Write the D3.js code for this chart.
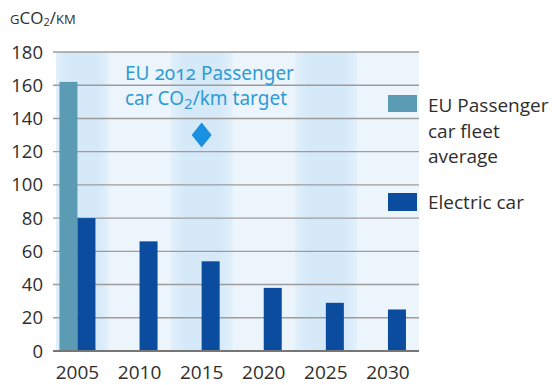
<!DOCTYPE html>
<html>
<head>
<meta charset="utf-8">
<script src="https://cdn.jsdelivr.net/npm/d3@7"></script>
<style>
  html, body { margin: 0; padding: 0; background: #fff; }
  svg { display: block; }
  text { font-family: "Open Sans", "Noto Sans", sans-serif; }
</style>
</head>
<body>
<svg id="chart" width="554" height="385"></svg>
<script>
// Chart data
const years = ["2005", "2010", "2015", "2020", "2025", "2030"];
const fleetAverage = [162, null, null, null, null, null];   // EU passenger car fleet average
const electricCar = [80, 66, 54, 38, 29, 25];                // electric car
const targetYear = "2015";
const targetValue = 130;                                     // EU 2012 target
const yTicks = [0, 20, 40, 60, 80, 100, 120, 140, 160, 180];
const seriesNames = ["EU Passenger car fleet average", "Electric car"];

const colors = {
  fleet: "#5b9bb4",
  electric: "#0b4c9e",
  target: "#1a90e2",
  annot: "#2f9bd6",
  text: "#2e2e2e",
  grid: "#9c9c9c",
  axis: "#767676",
  bandDark: "#d5e9f9",
  bandEdge: "#e2f0fb",
  bandLight: "#edf5fc"
};

const svg = d3.select("#chart");
const plot = { left: 56, right: 419, top: 52, bottom: 351 };

const x = d3.scaleBand().domain(years).range([46.4, plot.right]).padding(0);
const xSub = d3.scaleBand().domain(["fleet", "electric"]).range([0, 36]).padding(0);
const y = d3.scaleLinear().domain([0, 180]).range([plot.bottom, plot.top]);
const center = d => x(d) + x.bandwidth() / 2;

// Background bands
const defs = svg.append("defs");
const grad = defs.append("linearGradient").attr("id", "bandGrad")
  .attr("x1", "0%").attr("x2", "100%").attr("y1", "0%").attr("y2", "0%");
grad.append("stop").attr("offset", "0%").attr("stop-color", colors.bandEdge);
grad.append("stop").attr("offset", "22%").attr("stop-color", colors.bandDark);
grad.append("stop").attr("offset", "78%").attr("stop-color", colors.bandDark);
grad.append("stop").attr("offset", "100%").attr("stop-color", colors.bandEdge);

svg.append("rect")
  .attr("x", plot.left).attr("y", plot.top)
  .attr("width", plot.right - plot.left).attr("height", plot.bottom - plot.top)
  .attr("fill", colors.bandLight);

svg.append("g").selectAll("rect")
  .data(years.filter((d, i) => i % 2 === 0))
  .join("rect")
  .attr("x", d => Math.max(plot.left, x(d)))
  .attr("y", plot.top)
  .attr("width", d => x(d) + x.bandwidth() - Math.max(plot.left, x(d)))
  .attr("height", plot.bottom - plot.top)
  .attr("fill", "url(#bandGrad)");

// Gridlines
svg.append("g").selectAll("line")
  .data(yTicks.filter(t => t > 0))
  .join("line")
  .attr("x1", plot.left - 3).attr("x2", plot.right)
  .attr("y1", d => y(d)).attr("y2", d => y(d))
  .attr("stroke", colors.grid).attr("stroke-width", 1.4);

// Y tick labels
svg.append("g").selectAll("text")
  .data(yTicks)
  .join("text")
  .attr("x", 43).attr("y", d => y(d) + 6.5)
  .attr("text-anchor", "end")
  .attr("font-size", 18.5)
  .attr("fill", colors.text)
  .text(d => d);

// Y axis title: gCO2/km set in small caps (lowercase letters as reduced capitals)
const yTitle = svg.append("text")
  .attr("x", 10).attr("y", 24)
  .attr("font-size", 17)
  .attr("fill", colors.text);
yTitle.append("tspan").attr("font-size", 13).text("G");
yTitle.append("tspan").text("CO");
yTitle.append("tspan").attr("font-size", 11).attr("dy", 2).text("2");
yTitle.append("tspan").attr("dy", -2).text("/");
yTitle.append("tspan").attr("font-size", 13).text("KM");

// Bars
svg.append("g").selectAll("rect")
  .data(years.map((d, i) => ({ year: d, v: fleetAverage[i] })).filter(d => d.v != null))
  .join("rect")
  .attr("x", d => center(d.year) - 18 + xSub("fleet"))
  .attr("width", xSub.bandwidth())
  .attr("y", d => y(d.v))
  .attr("height", d => y(0) - y(d.v))
  .attr("fill", colors.fleet);

svg.append("g").selectAll("rect")
  .data(years.map((d, i) => ({ year: d, v: electricCar[i] })))
  .join("rect")
  .attr("x", d => center(d.year) - 18 + xSub("electric"))
  .attr("width", xSub.bandwidth())
  .attr("y", d => y(d.v))
  .attr("height", d => y(0) - y(d.v))
  .attr("fill", colors.electric);

// Baseline
svg.append("line")
  .attr("x1", plot.left - 3).attr("x2", plot.right)
  .attr("y1", y(0)).attr("y2", y(0))
  .attr("stroke", colors.axis).attr("stroke-width", 2);

// X labels
svg.append("g").selectAll("text")
  .data(years)
  .join("text")
  .attr("x", d => center(d))
  .attr("y", 379)
  .attr("text-anchor", "middle")
  .attr("font-size", 19)
  .attr("fill", colors.text)
  .text(d => d);

// Target marker
const tx = center(targetYear), ty = y(targetValue);
svg.append("path")
  .attr("d", `M${tx},${ty - 12.5}L${tx + 10},${ty}L${tx},${ty + 12.5}L${tx - 10},${ty}Z`)
  .attr("fill", colors.target);

// Target annotation
const ann = svg.append("text")
  .attr("x", 125).attr("y", 80)
  .attr("font-size", 19)
  .attr("fill", colors.annot)
  .style("font-family", "'Noto Sans', 'Open Sans', sans-serif")
  .style("font-feature-settings", "'onum' 1");
ann.append("tspan").text("EU 2012 Passenger");
const ann2 = svg.append("text")
  .attr("x", 125).attr("y", 105)
  .attr("font-size", 19)
  .attr("fill", colors.annot)
  .style("font-family", "'Noto Sans', 'Open Sans', sans-serif");
ann2.append("tspan").text("car CO");
ann2.append("tspan").attr("font-size", 15).attr("dy", 4).text("2");
ann2.append("tspan").attr("dy", -4).text("/km target");

// Legend
const legend = svg.append("g");
legend.append("rect").attr("x", 388).attr("y", 95).attr("width", 29).attr("height", 17).attr("fill", colors.fleet);
legend.append("rect").attr("x", 388).attr("y", 193).attr("width", 29).attr("height", 18).attr("fill", colors.electric);
const legText1 = legend.append("text").attr("x", 428).attr("y", 112)
  .attr("font-size", 19).attr("fill", colors.text);
["EU Passenger", "car fleet", "average"].forEach((t, i) => {
  legText1.append("tspan").attr("x", 428).attr("dy", i === 0 ? 0 : 25.5).text(t);
});
legend.append("text").attr("x", 428).attr("y", 209)
  .attr("font-size", 19).attr("fill", colors.text)
  .text(seriesNames[1]);
</script>
</body>
</html>
